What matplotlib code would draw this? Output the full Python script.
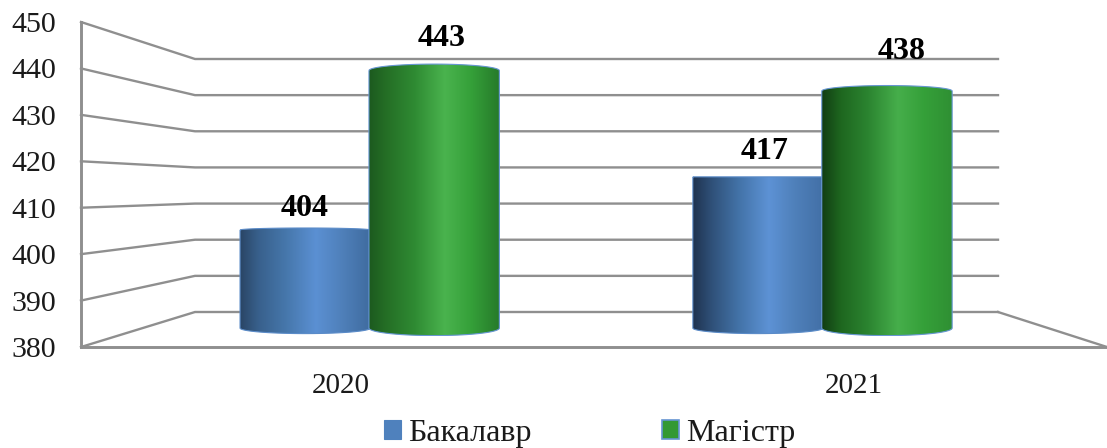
import numpy as np
import matplotlib
matplotlib.use('Agg')
import matplotlib.pyplot as plt
from matplotlib.colors import LinearSegmentedColormap
from matplotlib.patches import Patch, PathPatch
from matplotlib.path import Path
from matplotlib.transforms import ScaledTranslation

years = ['2020', '2021']
bachelor = [404, 417]
master = [443, 438]
ticks = [380, 390, 400, 410, 420, 430, 440, 450]
series_names = ['Бакалавр', 'Магістр']

plt.rcParams['font.family'] = ['Liberation Serif', 'DejaVu Serif']

W, H = 1107, 448
GRID = '#8f8f8f'
EDGE = '#6695d2'
LOW, HIGH = ticks[0], ticks[-1]

fig = plt.figure(figsize=(W / 100, H / 100), dpi=100)


def box(x0, x1, y_bottom, y_top):
    # pixel box (y going down) to figure fractions
    return [x0 / W, (H - y_bottom) / H, (x1 - x0) / W, (y_bottom - y_top) / H]


# oblique walls
ax_wall = fig.add_axes([0, 0, 1, 1])
ax_wall.set_xlim(0, W)
ax_wall.set_ylim(H, 0)
ax_wall.axis('off')

front_x = (81, 1107)
back_x = (195, 998)
front_y = (347, 22)
back_y = (312, 59)
for t in ticks:
    yf = np.interp(t, [LOW, HIGH], front_y)
    yb = np.interp(t, [LOW, HIGH], back_y)
    ax_wall.plot([front_x[0], back_x[0], back_x[1]], [yf, yb, yb], color=GRID, lw=1.7)
ax_wall.plot([back_x[1], front_x[1]], [back_y[0], front_y[0]], color=GRID, lw=1.7)

# front plane carries the axes and their labels
ax = fig.add_axes(box(front_x[0], front_x[1], front_y[0], front_y[1]))
ax.patch.set_alpha(0)
ax.set_xlim(-0.5, 1.5)
ax.set_ylim(LOW, HIGH)
ax.set_yticks(ticks)
ax.set_xticks(range(len(years)))
ax.set_xticklabels(years)
ax.tick_params(axis='y', length=0, pad=18, labelsize=21.5, labelcolor='#1a1a1a')
ax.tick_params(axis='x', length=0, pad=19, labelsize=21, labelcolor='#1a1a1a')
shift = ScaledTranslation(3.5 / 100, 0, fig.dpi_scale_trans)
for lab in ax.get_xticklabels():
    lab.set_transform(lab.get_transform() + shift)
for s in ['top', 'right']:
    ax.spines[s].set_visible(False)
for s in ['left', 'bottom']:
    ax.spines[s].set_color(GRID)
    ax.spines[s].set_linewidth(2.1)

# bars stand between the front plane and the back wall
depth = 0.54
bx0 = np.interp(depth, [0, 1], [front_x[0], back_x[0]])
bx1 = np.interp(depth, [0, 1], [front_x[1], back_x[1]])
by0 = np.interp(depth, [0, 1], [front_y[0], back_y[0]])
by1 = np.interp(depth, [0, 1], [front_y[1], back_y[1]])
floor_margin = 2
px_per_unit = (by0 - by1) / (HIGH - LOW)

ax_bars = fig.add_axes(box(bx0, bx1, by0 + floor_margin * px_per_unit, by1))
ax_bars.patch.set_alpha(0)
ax_bars.set_xlim(-0.5, 1.5)
ax_bars.set_ylim(LOW - floor_margin, HIGH)
ax_bars.axis('off')

stops = [0, 0.14, 0.35, 0.58, 0.78, 1]
blue_stops = [
    ['#2a4565', '#38608c', '#4677ab', '#5b90d3', '#4f80ba', '#3f6b9f'],
    ['#1f3350', '#2f5078', '#4373a8', '#5d92d5', '#4f80ba', '#426fa6'],
]
green_stops = [
    ['#1c5a1f', '#257026', '#2f8b33', '#4ab34e', '#35a039', '#267a2a'],
    ['#123e14', '#1e661f', '#2b8430', '#46ae4b', '#35a039', '#2f8f33'],
]
top_rise = {'b': [2, 0], 'g': [6.5, 5.5]}
bottom_drop = {'b': 5.5, 'g': 7.5}
width = 0.288
blue_nudge = 0.0033


def cylinder(x, value, colors, rise_px, drop_px, z, line):
    x0, x1 = x - width / 2, x + width / 2
    rise = rise_px / px_per_unit
    drop = drop_px / px_per_unit
    a = np.linspace(0, np.pi, 40)
    mid, half = (x0 + x1) / 2, (x1 - x0) / 2
    top = np.column_stack([mid - half * np.cos(a), value + rise * np.sin(a)])
    bot = np.column_stack([mid + half * np.cos(a), LOW - drop * np.sin(a)])
    verts = np.vstack([top, bot, top[:1]])
    path = Path(verts)

    cmap = LinearSegmentedColormap.from_list('c', list(zip(stops, colors)))
    im = ax_bars.imshow(np.linspace(0, 1, 256).reshape(1, -1), cmap=cmap, aspect='auto',
                        extent=[x0, x1, LOW - floor_margin, HIGH], zorder=z)
    outline = PathPatch(path, facecolor='none', edgecolor=line, lw=0.8, zorder=z + 0.1)
    ax_bars.add_patch(outline)
    im.set_clip_path(outline)


for i in range(len(years)):
    cylinder(i - width / 2 + blue_nudge, bachelor[i], blue_stops[i], top_rise['b'][i],
             bottom_drop['b'], 2, '#5a8bc8')
    cylinder(i + width / 2, master[i], green_stops[i], top_rise['g'][i], bottom_drop['g'], 3, EDGE)
ax_bars.set_xlim(-0.5, 1.5)
ax_bars.set_ylim(LOW - floor_margin, HIGH)

# value labels sit by hand above the bars in the original
blue_offsets = [(1, 22), (8, 25)]
green_offsets = [(7, 32), (15, 40)]
for i in range(len(years)):
    for val, off, cx in [(bachelor[i], blue_offsets[i], i - width / 2),
                         (master[i], green_offsets[i], i + width / 2)]:
        ax_bars.annotate(str(val), xy=(cx, val), xytext=(off[0] * 0.72, off[1] * 0.72),
                         textcoords='offset points', ha='center', va='center',
                         fontsize=23, fontweight='bold', color='black', zorder=5)

handles = [Patch(facecolor='#4f81bd', edgecolor='#4f81bd', lw=0.8),
           Patch(facecolor='#339933', edgecolor=EDGE, lw=1.2)]
fig.legend(handles, series_names, loc='lower center', bbox_to_anchor=(589.5 / W, -19 / H), ncol=2,
           frameon=False, fontsize=23, handlelength=0.53, handleheight=0.53,
           handletextpad=0.22, columnspacing=4.1, borderpad=0.1, labelcolor='#1a1a1a')

fig.savefig('out.png', dpi=100)
